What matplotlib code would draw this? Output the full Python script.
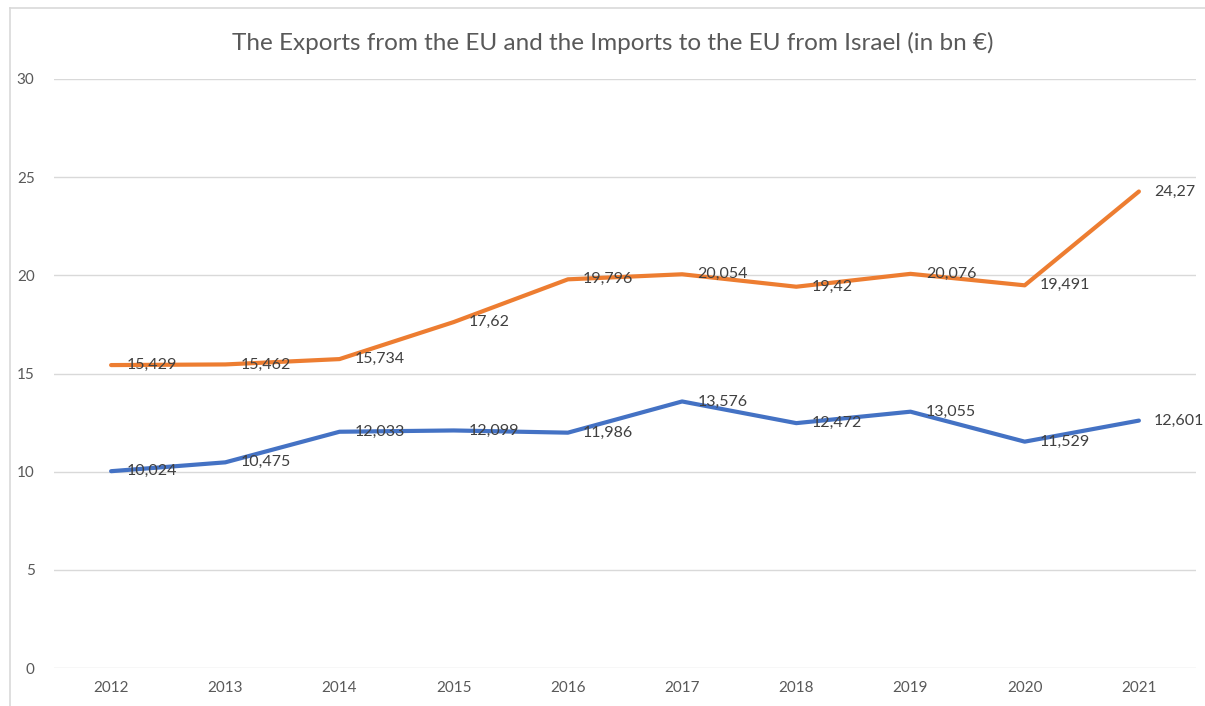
import matplotlib
matplotlib.use("Agg")
import matplotlib.pyplot as plt
from matplotlib.lines import Line2D

years = ["2012", "2013", "2014", "2015", "2016", "2017", "2018", "2019", "2020", "2021"]
exports = [15.429, 15.462, 15.734, 17.62, 19.796, 20.054, 19.42, 20.076, 19.491, 24.27]
imports = [10.024, 10.475, 12.033, 12.099, 11.986, 13.576, 12.472, 13.055, 11.529, 12.601]
y_ticks = [0, 5, 10, 15, 20, 25, 30]
title = "The Exports from the EU and the Imports to the EU from Israel (in bn €)"

plt.rcParams['font.family'] = ['Lato', 'DejaVu Sans']

fig = plt.figure(figsize=(12.05, 7.06), dpi=100)
ax = fig.add_axes([54/1205, 38/706, (1196-54)/1205, (668-79)/706])

x = list(range(len(years)))
orange = "#ED7D31"
blue = "#4472C4"
ax.plot(x, exports, color=orange, lw=3.0, solid_joinstyle='round', solid_capstyle='round', zorder=3)
ax.plot(x, imports, color=blue, lw=3.0, solid_joinstyle='round', solid_capstyle='round', zorder=3)

def fmt(v):
    return f"{v:g}".replace('.', ',')

for xs, ys in ((x, exports), (x, imports)):
    for xi, yi in zip(xs, ys):
        ax.annotate(fmt(yi), (xi, yi), xytext=(11, 0), textcoords='offset points',
                    ha='left', va='center', fontsize=11.5, color='#404040', zorder=4)

ax.set_xlim(-0.5, len(years) - 0.5)
ax.set_ylim(0, 30)
ax.set_yticks(y_ticks)
ax.set_yticklabels([str(t) for t in y_ticks])
ax.set_xticks(x)
ax.set_xticklabels(years)
ax.grid(axis='y', color='#D9D9D9', lw=1.0)
ax.set_axisbelow(True)
for s in ax.spines.values():
    s.set_visible(False)
ax.tick_params(axis='both', length=0, labelsize=11, colors='#595959')
ax.tick_params(axis='y', pad=14)
ax.tick_params(axis='x', pad=9)

fig.text(613/1205, 1 - 43/706, title, ha='center', va='center', fontsize=17.5, color='#595959')

# outer chart frame (top and left edges visible)
fig.add_artist(Line2D([10/1205, 1.0], [1 - 8/706, 1 - 8/706], transform=fig.transFigure, color='#D9D9D9', lw=1.2))
fig.add_artist(Line2D([10/1205, 10/1205], [0, 1 - 8/706], transform=fig.transFigure, color='#D9D9D9', lw=1.2))

fig.savefig("out.png", dpi=100)
